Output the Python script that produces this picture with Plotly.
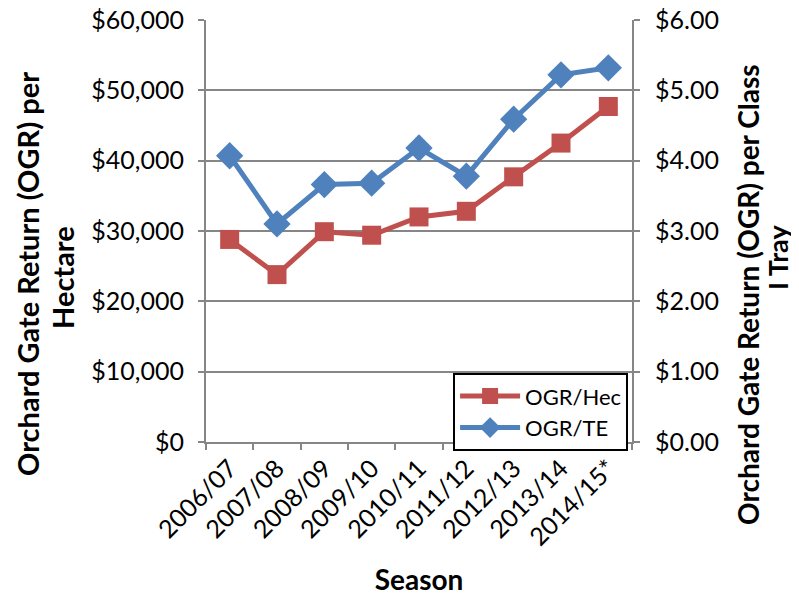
import plotly.graph_objects as go

seasons = ["2006/07", "2007/08", "2008/09", "2009/10", "2010/11",
           "2011/12", "2012/13", "2013/14", "2014/15*"]
ogr_hec = [28800, 23800, 29900, 29400, 32000, 32800, 37700, 42500, 47700]
ogr_te = [4.07, 3.10, 3.66, 3.68, 4.18, 3.78, 4.59, 5.22, 5.32]

left_ticks = [0, 10000, 20000, 30000, 40000, 50000, 60000]
left_labels = ["$0", "$10,000", "$20,000", "$30,000", "$40,000", "$50,000", "$60,000"]
right_ticks = [0, 1, 2, 3, 4, 5, 6]
right_labels = ["$0.00", "$1.00", "$2.00", "$3.00", "$4.00", "$5.00", "$6.00"]

RED = "#C0504D"
BLUE = "#4F81BD"
GRID = "#868686"
FONT = "Lato"

fig = go.Figure()
fig.add_trace(go.Scatter(
    x=seasons, y=ogr_hec, name="OGR/Hec", mode="lines+markers",
    line=dict(color=RED, width=5),
    marker=dict(symbol="square", size=19, color=RED),
    yaxis="y"))
fig.add_trace(go.Scatter(
    x=seasons, y=ogr_te, name="OGR/TE", mode="lines+markers",
    line=dict(color=BLUE, width=5),
    marker=dict(symbol="diamond", size=21, color=BLUE),
    yaxis="y2"))

# figure sized to fit the window next to the page body's 8px margin
fig.update_layout(
    template="none",
    width=791, height=589,
    margin=dict(l=198, r=167, t=12, b=155),
    paper_bgcolor="white", plot_bgcolor="white",
    font=dict(family=FONT, size=25, color="black"),
    showlegend=True,
    legend=dict(
        x=0.58, y=0.163, xanchor="left", yanchor="top",
        bgcolor="white", bordercolor="black", borderwidth=2,
        font=dict(family=FONT, size=22, color="black"),
        itemwidth=60),
    xaxis=dict(
        type="category", tickangle=-45, automargin=False,
        showline=True, linecolor=GRID, linewidth=2,
        ticks="outside", tickson="boundaries", ticklen=6, tickcolor=GRID, tickwidth=2,
        showgrid=False, zeroline=False,
        tickfont=dict(family=FONT, size=25),
        title=dict(text="<b>Season</b>", font=dict(family=FONT, size=28), standoff=20),
        range=[-0.5, 8.5]),
    yaxis=dict(
        range=[0, 60000], tickvals=left_ticks, ticktext=left_labels, automargin=False,
        showline=True, linecolor=GRID, linewidth=2,
        ticks="outside", ticklen=6, tickcolor=GRID, tickwidth=2,
        ticklabelstandoff=9, ticklabeloverflow="allow",
        showgrid=True, gridcolor=GRID, gridwidth=2,
        zeroline=False,
        tickfont=dict(family=FONT, size=25)),
    yaxis2=dict(
        range=[0, 6], tickvals=right_ticks, ticktext=right_labels, automargin=False,
        overlaying="y", side="right",
        showline=True, linecolor=GRID, linewidth=2,
        ticks="outside", ticklen=6, tickcolor=GRID, tickwidth=2,
        ticklabelstandoff=10, ticklabeloverflow="allow",
        showgrid=False, zeroline=False,
        tickfont=dict(family=FONT, size=25)),
)

# y-axis titles (rotated), placed in pixel offsets from plot edges
titles = [
    ("<b>Orchard Gate Return (OGR) per</b>", 0, -179, 168, 29),
    ("<b>Hectare</b>", 0, -144, 164, 29),
    ("<b>Orchard Gate Return (OGR) per Class</b>", 1, 116, 147, 28),
    ("<b>I Tray</b>", 1, 145, 184, 27),
]
for text, xp, xs, ys, fs in titles:
    fig.add_annotation(text=text, xref="paper", yref="paper", x=xp, y=0,
                       xshift=xs, yshift=ys, xanchor="center", yanchor="middle",
                       textangle=-90, showarrow=False,
                       font=dict(family=FONT, size=fs, color="black"))

fig.write_html("out.html")
